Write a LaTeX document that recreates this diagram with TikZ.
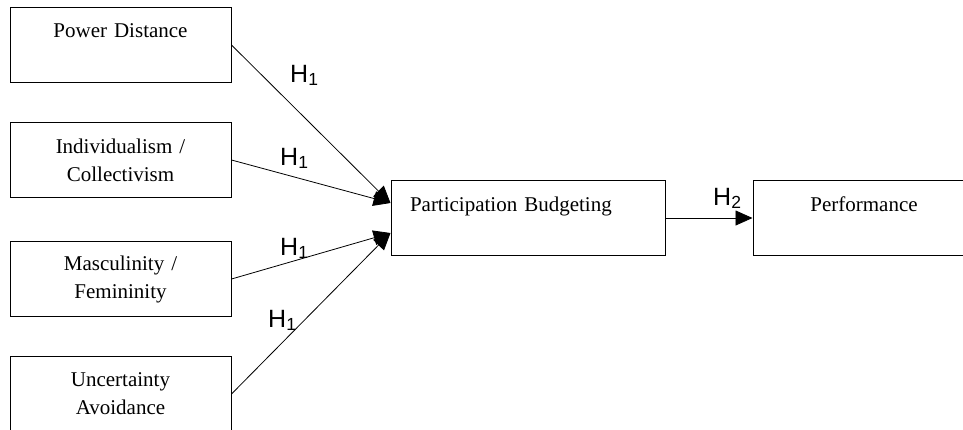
\documentclass[tikz,border=0pt]{standalone}
\usepackage{fontspec}
\setmainfont{Liberation Serif}
\newfontfamily\hfont{Liberation Sans}
\usetikzlibrary{arrows.meta}

\begin{document}
\begin{tikzpicture}[x=1pt,y=-1pt,
	box/.style={draw,line width=1pt,inner xsep=6pt,inner ysep=0pt,text width=209pt,minimum height=75pt,align=center,font=\fontsize{21}{28}\selectfont},
	hyp/.style={anchor=base west,inner sep=0pt,font=\hfont\fontsize{25}{30}\selectfont},
	link/.style={line width=0.8pt,-{Triangle[length=17pt,width=15pt]}}]
	\useasboundingbox (0,0) rectangle (963,429);
	\clip (0,0) rectangle (963,429);
	% dimensions
	\node [box] (pd) at (120.5,45) {Power Distance\\ ~};
	\node [box] (ic) at (120.5,160) {Individualism /\\ Collectivism};
	\node [box] (mf) at (120.5,279) {Masculinity /\\ Femininity};
	\node [box] (ua) at (120.5,394) {Uncertainty\\ Avoidance};
	% budgeting and performance
	\node [box,text width=236pt,inner xsep=19pt,align=left] (pb) at (528,218) {Participation Budgeting\\ ~};
	\node [box,text width=210pt] (pf) at (864,218) {Performance\\ ~};
	\coordinate (pbup) at ([yshift=15pt]pb.west);
	\coordinate (pblow) at ([yshift=-15pt]pb.west);
	\draw [link] (pd.east) -- (pbup);
	\draw [link] (ic.east) -- (pbup);
	\draw [link] (mf.east) -- (pblow);
	\draw [link] (ua.east) -- (pblow);
	\draw [link] (pb.east) -- (pf.west);
	% hypotheses
	\node [hyp] (h1a) at (290,82) {H\textsubscript{1}};
	\node [hyp] (h1b) at (280,165) {H\textsubscript{1}};
	\node [hyp] (h1c) at (280,255) {H\textsubscript{1}};
	\node [hyp] (h1d) at (268,327) {H\textsubscript{1}};
	\node [hyp] (h2) at (713,205) {H\textsubscript{2}};
\end{tikzpicture}
\end{document}
